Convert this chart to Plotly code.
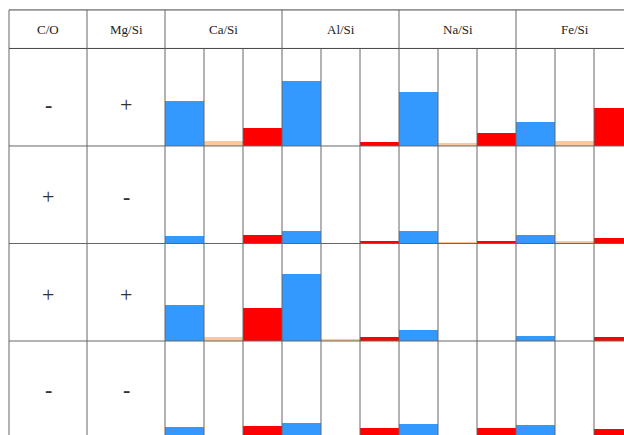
import plotly.graph_objects as go

# ---- table content -------------------------------------------------------
elements = ["Ca/Si", "Al/Si", "Na/Si", "Fe/Si"]
left_headers = ["C/O", "Mg/Si"]
co_signs = ["-", "+", "+", "-"]
mgsi_signs = ["+", "-", "+", "-"]

# Bar heights in % of the cell height; one list per table row,
# values ordered as the elements above (Ca, Al, Na, Fe).
blue_vals = [
    [46.4, 67.0, 55.7, 24.7],
    [7.5, 12.5, 12.5, 8.2],
    [37.0, 69.0, 11.0, 5.3],
    [11.6, 15.5, 14.4, 13.4],
]
peach_vals = [
    [5.0, 0.0, 2.6, 5.0],
    [0.0, 0.0, 1.8, 2.4],
    [4.4, 2.4, 0.0, 0.0],
    [0.0, 0.0, 0.0, 0.0],
]
red_vals = [
    [18.6, 4.0, 13.4, 39.0],
    [8.2, 3.0, 3.0, 5.9],
    [33.7, 4.4, 0.0, 4.4],
    [12.4, 10.3, 10.3, 9.3],
]

# ---- geometry (data units) ----------------------------------------------
ROW_H = 100          # one table row
N_ROWS = len(co_signs)
HEADER_BOTTOM = N_ROWS * ROW_H
HEADER_TOP = HEADER_BOTTOM + 39.5
LEFT_EDGE = -4.5     # two columns of width 2 before the bar columns
N_SUB = 3 * len(elements)
RIGHT_EDGE = N_SUB - 0.5

series = [
    (blue_vals, 0, "#3399ff"),
    (peach_vals, 1, "#f9c89c"),
    (red_vals, 2, "#ff0000"),
]

fig = go.Figure()
for vals, sub, color in series:
    xs, ys, bases = [], [], []
    for r, row in enumerate(vals):
        base = (N_ROWS - 1 - r) * ROW_H
        for e, v in enumerate(row):
            xs.append(3 * e + sub)
            ys.append(v)
            bases.append(base)
    fig.add_trace(go.Bar(
        x=xs, y=ys, base=bases, width=1,
        marker=dict(color=color, line=dict(width=0)),
        hoverinfo="skip", showlegend=False,
    ))

# ---- grid lines --------------------------------------------------------
line_body = dict(color="#666666", width=1)
line_head = dict(color="#444444", width=1)
shapes = []
for yv in [HEADER_TOP, HEADER_BOTTOM]:
    shapes.append(dict(type="line", x0=LEFT_EDGE, x1=RIGHT_EDGE + 1, y0=yv, y1=yv,
                       line=line_head, layer="above"))
for r in range(1, N_ROWS + 1):
    yv = HEADER_BOTTOM - r * ROW_H
    shapes.append(dict(type="line", x0=LEFT_EDGE, x1=RIGHT_EDGE + 1, y0=yv, y1=yv,
                       line=line_body, layer="above"))
major_x = [LEFT_EDGE, LEFT_EDGE + 2, -0.5] + [3 * e + 2.5 for e in range(len(elements))]
for xv in major_x:
    shapes.append(dict(type="line", x0=xv, x1=xv, y0=-10, y1=HEADER_TOP,
                       line=line_body, layer="above"))
for e in range(len(elements)):
    for s in (0.5, 1.5):
        xv = 3 * e + s
        shapes.append(dict(type="line", x0=xv, x1=xv, y0=-10, y1=HEADER_BOTTOM,
                           line=line_body, layer="above"))

# ---- text ----------------------------------------------------------------
serif = "Liberation Serif, Times New Roman, serif"
annotations = []
head_y = (HEADER_TOP + HEADER_BOTTOM) / 2
head_x = [LEFT_EDGE + 1, LEFT_EDGE + 3] + [3 * e + 1 for e in range(len(elements))]
for txt, xv in zip(left_headers + elements, head_x):
    annotations.append(dict(x=xv, y=head_y, text=txt, showarrow=False,
                            font=dict(family=serif, size=13, color="#222222")))
sign_shift = [-7, -2, -2, 0]
for r in range(N_ROWS):
    yc = HEADER_BOTTOM - r * ROW_H - ROW_H / 2
    for xv, sgn in ((LEFT_EDGE + 1, co_signs[r]), (LEFT_EDGE + 3, mgsi_signs[r])):
        label = "<b>" + sgn + "</b>" if sgn == "-" else sgn
        annotations.append(dict(x=xv, y=yc, text=label, showarrow=False, yshift=sign_shift[r],
                                font=dict(family=serif, size=22, color="#333333")))

fig.update_layout(
    width=624, height=435,
    margin=dict(l=0, r=0, t=0, b=0),
    paper_bgcolor="white", plot_bgcolor="white",
    barmode="overlay", bargap=0,
    xaxis=dict(range=[-4.7308, 11.2692], visible=False, fixedrange=True),
    yaxis=dict(range=[3.6, 449.7], visible=False, fixedrange=True),
    shapes=shapes, annotations=annotations,
    showlegend=False,
)

fig.write_html("out.html")
